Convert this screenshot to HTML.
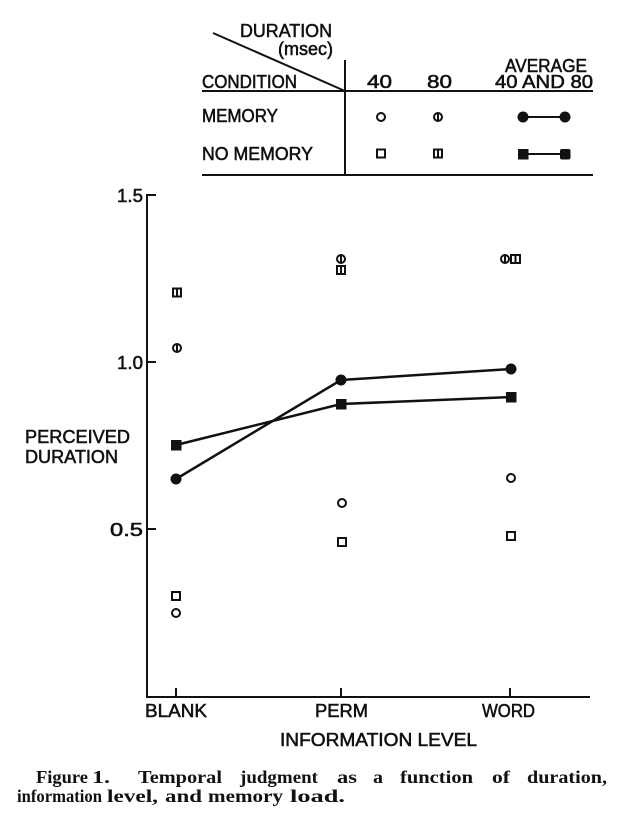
<!DOCTYPE html>
<html>
<head>
<meta charset="utf-8">
<style>
html,body{margin:0;padding:0;background:#fff;}
svg{display:block;}
.s{font-family:"Liberation Sans",sans-serif;fill:#111;stroke:#111;stroke-width:0.55px;}
.c{font-family:"Liberation Serif",serif;font-weight:bold;fill:#111;font-size:18px;}
</style>
</head>
<body>
<svg width="640" height="819" viewBox="0 0 640 819" xmlns="http://www.w3.org/2000/svg">
<rect width="640" height="819" fill="#fff"/>
<!-- Legend table -->
<g stroke="#111" stroke-width="2" fill="none">
  <line x1="213" y1="33" x2="345" y2="91"/>
  <line x1="345" y1="60" x2="345" y2="176"/>
  <line x1="202" y1="91" x2="593" y2="91"/>
  <line x1="202" y1="175" x2="593" y2="175"/>
</g>
<text class="s" x="240" y="37" font-size="18" textLength="92" lengthAdjust="spacingAndGlyphs">DURATION</text>
<text class="s" x="278" y="55" font-size="18" textLength="55" lengthAdjust="spacingAndGlyphs">(msec)</text>
<text class="s" x="202" y="88" font-size="18" textLength="95" lengthAdjust="spacingAndGlyphs">CONDITION</text>
<text class="s" x="367" y="88" font-size="18" textLength="25" lengthAdjust="spacingAndGlyphs">40</text>
<text class="s" x="427" y="88" font-size="18" textLength="25" lengthAdjust="spacingAndGlyphs">80</text>
<text class="s" x="505" y="72" font-size="18" textLength="82" lengthAdjust="spacingAndGlyphs">AVERAGE</text>
<text class="s" x="495" y="88" font-size="18" textLength="98" lengthAdjust="spacingAndGlyphs">40 AND 80</text>
<text class="s" x="202" y="122" font-size="18" textLength="76" lengthAdjust="spacingAndGlyphs">MEMORY</text>
<text class="s" x="202" y="160" font-size="18" textLength="111" lengthAdjust="spacingAndGlyphs">NO MEMORY</text>
<!-- legend markers -->
<g stroke="#111" stroke-width="2" fill="none">
  <circle cx="381" cy="117" r="4"/>
  <circle cx="438" cy="117" r="4"/>
  <line x1="438" y1="113" x2="438" y2="121"/>
  <rect x="377" y="149.5" width="8" height="8"/>
  <rect x="434" y="149.5" width="8" height="8"/>
  <line x1="438" y1="150" x2="438" y2="157"/>
  <line x1="523" y1="117" x2="565" y2="117"/>
  <line x1="523" y1="154" x2="565" y2="154"/>
</g>
<g fill="#111">
  <circle cx="523" cy="117" r="5.5"/>
  <circle cx="565" cy="117" r="5.5"/>
  <rect x="518" y="149" width="10.5" height="10.5"/>
  <rect x="560" y="149" width="10.5" height="10.5" rx="2"/>
</g>
<!-- Axes -->
<g stroke="#111" stroke-width="2" fill="none">
  <line x1="147" y1="194" x2="147" y2="698"/>
  <line x1="146" y1="697" x2="590" y2="697"/>
  <line x1="147" y1="195" x2="156" y2="195"/>
  <line x1="147" y1="362" x2="156" y2="362"/>
  <line x1="147" y1="529" x2="156" y2="529"/>
  <line x1="176" y1="688" x2="176" y2="697"/>
  <line x1="341" y1="688" x2="341" y2="697"/>
  <line x1="510" y1="688" x2="510" y2="697"/>
</g>
<text class="s" x="117" y="202" font-size="18" textLength="26" lengthAdjust="spacingAndGlyphs">1.5</text>
<text class="s" x="117" y="369" font-size="18" textLength="26" lengthAdjust="spacingAndGlyphs">1.0</text>
<text class="s" x="110" y="536" font-size="18" textLength="33" lengthAdjust="spacingAndGlyphs">0.5</text>
<text class="s" x="25" y="443" font-size="18" textLength="105" lengthAdjust="spacingAndGlyphs">PERCEIVED</text>
<text class="s" x="25" y="463" font-size="18" textLength="93" lengthAdjust="spacingAndGlyphs">DURATION</text>
<text class="s" x="145" y="717" font-size="18" textLength="62" lengthAdjust="spacingAndGlyphs">BLANK</text>
<text class="s" x="315" y="717" font-size="18" textLength="53" lengthAdjust="spacingAndGlyphs">PERM</text>
<text class="s" x="482" y="717" font-size="18" textLength="53" lengthAdjust="spacingAndGlyphs">WORD</text>
<text class="s" x="280" y="746" font-size="18" textLength="197" lengthAdjust="spacingAndGlyphs">INFORMATION LEVEL</text>
<!-- Average lines -->
<g stroke="#111" stroke-width="2.5" fill="none">
  <polyline points="176,479 341,380 511,369"/>
  <polyline points="176,445 341,404 511,397"/>
</g>
<g fill="#111">
  <circle cx="176" cy="479" r="5.5"/>
  <circle cx="341" cy="380" r="5.5"/>
  <circle cx="511" cy="369" r="5.5"/>
  <rect x="171" y="440" width="10.5" height="10.5"/>
  <rect x="336" y="399" width="10.5" height="10.5"/>
  <rect x="506" y="392" width="10.5" height="10.5"/>
</g>
<!-- individual points -->
<g stroke="#111" stroke-width="2" fill="none">
  <!-- BLANK -->
  <rect x="173" y="288.5" width="8" height="8"/>
  <line x1="177" y1="289" x2="177" y2="296"/>
  <circle cx="177" cy="348" r="4"/>
  <line x1="177" y1="344" x2="177" y2="352"/>
  <rect x="172" y="592" width="8" height="8"/>
  <circle cx="176" cy="613" r="4"/>
  <!-- PERM -->
  <circle cx="341" cy="259" r="4"/>
  <line x1="341" y1="255" x2="341" y2="263"/>
  <rect x="337" y="266" width="8" height="8"/>
  <line x1="341" y1="266" x2="341" y2="274"/>
  <circle cx="342" cy="503" r="4"/>
  <rect x="338" y="538" width="8" height="8"/>
  <!-- WORD -->
  <circle cx="505" cy="259" r="4"/>
  <line x1="505" y1="255" x2="505" y2="263"/>
  <rect x="511" y="255" width="9" height="8"/>
  <line x1="515.5" y1="255" x2="515.5" y2="263"/>
  <circle cx="511" cy="478" r="4"/>
  <rect x="507" y="532" width="8" height="8"/>
</g>
<!-- Caption -->
<g class="c">
  <text x="36" y="783" textLength="52" lengthAdjust="spacingAndGlyphs">Figure</text>
  <text x="92" y="783" textLength="18" lengthAdjust="spacingAndGlyphs">1.</text>
  <text x="138" y="783" textLength="84" lengthAdjust="spacingAndGlyphs">Temporal</text>
  <text x="240" y="783" textLength="78" lengthAdjust="spacingAndGlyphs">judgment</text>
  <text x="337" y="783" textLength="20" lengthAdjust="spacingAndGlyphs">as</text>
  <text x="373" y="783" textLength="10" lengthAdjust="spacingAndGlyphs">a</text>
  <text x="400" y="783" textLength="73" lengthAdjust="spacingAndGlyphs">function</text>
  <text x="492" y="783" textLength="18" lengthAdjust="spacingAndGlyphs">of</text>
  <text x="527" y="783" textLength="80" lengthAdjust="spacingAndGlyphs">duration,</text>
  <text x="17" y="802" textLength="85" lengthAdjust="spacingAndGlyphs">information</text>
  <text x="107" y="802" textLength="51" lengthAdjust="spacingAndGlyphs">level,</text>
  <text x="165" y="802" textLength="37" lengthAdjust="spacingAndGlyphs">and</text>
  <text x="208" y="802" textLength="75" lengthAdjust="spacingAndGlyphs">memory</text>
  <text x="290" y="802" textLength="55" lengthAdjust="spacingAndGlyphs">load.</text>
</g>
</svg>
</body>
</html>
